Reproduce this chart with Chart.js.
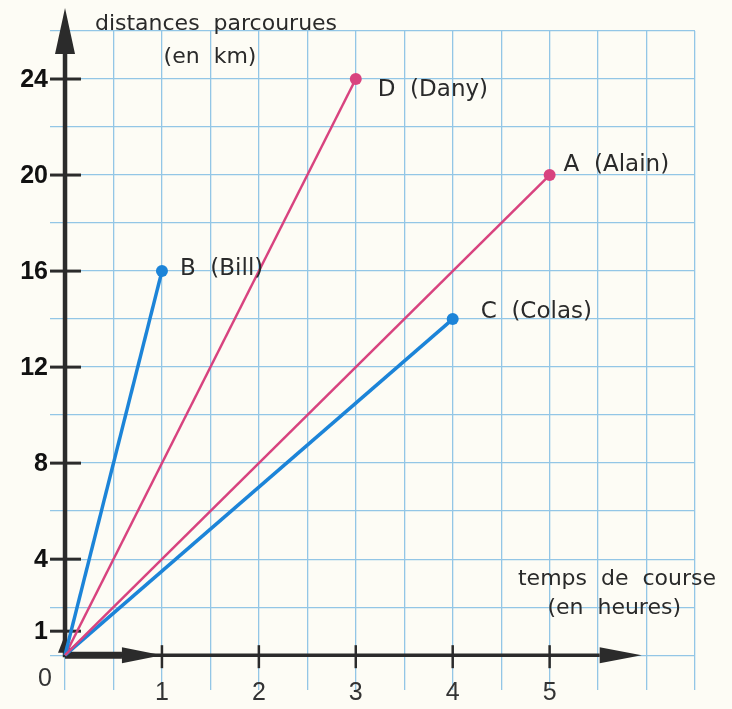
<!DOCTYPE html>
<html>
<head>
<meta charset="utf-8">
<script src="https://cdn.jsdelivr.net/npm/chart.js@4"></script>
<style>
  html, body { margin: 0; padding: 0; background: #fdfcf5; }
  #wrap { width: 732px; height: 709px; }
</style>
</head>
<body>
<div id="wrap"><canvas id="courseChart" width="732" height="709"></canvas></div>
<script>
// données
const coureurs = ['A', 'B', 'C', 'D'];
const noms = ['(Alain)', '(Bill)', '(Colas)', '(Dany)'];
const heures = [5, 1, 4, 3];
const distances = [20, 16, 14, 24];
const yTickLabels = [1, 4, 8, 12, 16, 20, 24];
const xTickLabels = [1, 2, 3, 4, 5];
const xGrid = [0, 0.5, 1, 1.5, 2, 2.5, 3, 3.5, 4, 4.5, 5, 5.5, 6, 6.5];
const yGrid = [0, 2, 4, 6, 8, 10, 12, 14, 16, 18, 20, 22, 24, 26];

const BLEU = '#1c84d8';
const ROSE = '#d8437f';
const couleurs = { A: ROSE, B: BLEU, C: BLEU, D: ROSE };
const epaisseurs = { A: 2.5, B: 3.5, C: 3.5, D: 2.5 };
// décalage des étiquettes par rapport au point final (px)
const decalages = { A: [14, -10], B: [18, -2], C: [28, -7], D: [22, 11] };

const datasets = coureurs.map((c, i) => ({
    label: c + '  ' + noms[i],
    data: [{ x: 0, y: 0 }, { x: heures[i], y: distances[i] }],
    borderColor: couleurs[c],
    backgroundColor: couleurs[c],
    borderWidth: epaisseurs[c],
    pointRadius: [0, 6],
    pointHoverRadius: [0, 6],
    pointBorderWidth: 0,
    tension: 0
}));

const INK = '#2b2b2b';
const POLICE = '"DejaVu Sans", "Liberation Sans", Arial, sans-serif';

function fleche(ctx, x1, y1, x2, y2, largeur, longTete, demiTete) {
    const ang = Math.atan2(y2 - y1, x2 - x1);
    const bx = x2 - Math.cos(ang) * longTete;
    const by = y2 - Math.sin(ang) * longTete;
    ctx.lineWidth = largeur;
    ctx.beginPath();
    ctx.moveTo(x1, y1);
    ctx.lineTo(bx, by);
    ctx.stroke();
    ctx.beginPath();
    ctx.moveTo(x2, y2);
    ctx.lineTo(bx - Math.sin(ang) * demiTete, by + Math.cos(ang) * demiTete);
    ctx.lineTo(bx + Math.sin(ang) * demiTete, by - Math.cos(ang) * demiTete);
    ctx.closePath();
    ctx.fill();
}

const axesPlugin = {
    id: 'axesRepere',
    beforeDatasetsDraw(chart) {
        const ctx = chart.ctx;
        const x = chart.scales.x, y = chart.scales.y;
        const x0 = x.getPixelForValue(0), y0 = y.getPixelForValue(0);
        ctx.save();
        ctx.strokeStyle = INK;
        ctx.fillStyle = INK;
        ctx.lineCap = 'butt';
        // axe des ordonnées
        fleche(ctx, x0, y0 + 2, x0, 8, 4.5, 46, 10);
        // axe des abscisses
        fleche(ctx, x0, y0, x.getPixelForValue(5.95), y0, 3.5, 42, 8);
        // vecteurs unitaires
        fleche(ctx, x0, y0, x.getPixelForValue(1), y0, 7, 40, 8);
        fleche(ctx, x0, y0, x0, y.getPixelForValue(0.85), 4, 18, 7);
        // graduations
        ctx.lineWidth = 3;
        yTickLabels.forEach(v => {
            const py = y.getPixelForValue(v);
            ctx.beginPath();
            ctx.moveTo(x0 - 15, py);
            ctx.lineTo(x0 + 16, py);
            ctx.stroke();
        });
        ctx.lineWidth = 2.5;
        xTickLabels.forEach(v => {
            const px = x.getPixelForValue(v);
            ctx.beginPath();
            ctx.moveTo(px, y0 - 10);
            ctx.lineTo(px, y0 + 13);
            ctx.stroke();
        });
        ctx.restore();
    },
    afterDatasetsDraw(chart) {
        const ctx = chart.ctx;
        const x = chart.scales.x, y = chart.scales.y;
        const x0 = x.getPixelForValue(0), y0 = y.getPixelForValue(0);
        ctx.save();
        // étiquettes des ordonnées
        ctx.fillStyle = '#111';
        ctx.font = 'bold 25px "Liberation Sans", Arial, sans-serif';
        ctx.textAlign = 'right';
        ctx.textBaseline = 'middle';
        yTickLabels.forEach(v => ctx.fillText(String(v), x0 - 17, y.getPixelForValue(v) + 1));
        // étiquettes des abscisses
        ctx.fillStyle = '#333';
        ctx.font = '25px "Liberation Sans", Arial, sans-serif';
        ctx.textAlign = 'center';
        xTickLabels.forEach(v => ctx.fillText(String(v), x.getPixelForValue(v), y0 + 38));
        ctx.fillText('0', x0 - 20, y0 + 24);
        // noms des coureurs
        ctx.font = '23px ' + POLICE;
        ctx.textAlign = 'left';
        ctx.fillStyle = '#2a2a2a';
        coureurs.forEach((c, i) => {
            const d = decalages[c];
            ctx.fillText(c + '  ' + noms[i], x.getPixelForValue(heures[i]) + d[0], y.getPixelForValue(distances[i]) + d[1]);
        });
        // titres des axes
        ctx.textAlign = 'center';
        ctx.font = '22px ' + POLICE;
        ctx.fillText('distances  parcourues', 216, 24);
        ctx.fillText('(en  km)', 210, 57);
        ctx.textAlign = 'right';
        ctx.fillText('temps  de  course', 716, 579);
        ctx.fillText('(en  heures)', 681, 608);
        ctx.restore();
    }
};

const fondPlugin = {
    id: 'fond',
    beforeDraw(chart) {
        const ctx = chart.ctx;
        ctx.save();
        ctx.fillStyle = '#fdfcf5';
        ctx.fillRect(0, 0, chart.width, chart.height);
        ctx.restore();
    }
};

const courseChart = new Chart(document.getElementById('courseChart').getContext('2d'), {
    type: 'line',
    data: { datasets: datasets },
    options: {
        responsive: false,
        animation: false,
        layout: { padding: { left: 50, right: 37, top: 31, bottom: 19 } },
        plugins: { legend: { display: false }, tooltip: { enabled: false } },
        scales: {
            x: {
                type: 'linear',
                min: -0.155,
                max: 6.5,
                afterBuildTicks: s => { s.ticks = xGrid.map(v => ({ value: v })); },
                ticks: { display: false },
                grid: { color: '#93c6e6', lineWidth: 1.3, drawTicks: false },
                border: { display: false }
            },
            y: {
                type: 'linear',
                min: -1.45,
                max: 26,
                afterBuildTicks: s => { s.ticks = yGrid.map(v => ({ value: v })); },
                ticks: { display: false },
                grid: { color: '#93c6e6', lineWidth: 1.3, drawTicks: false },
                border: { display: false }
            }
        }
    },
    plugins: [fondPlugin, axesPlugin]
});
</script>
</body>
</html>
